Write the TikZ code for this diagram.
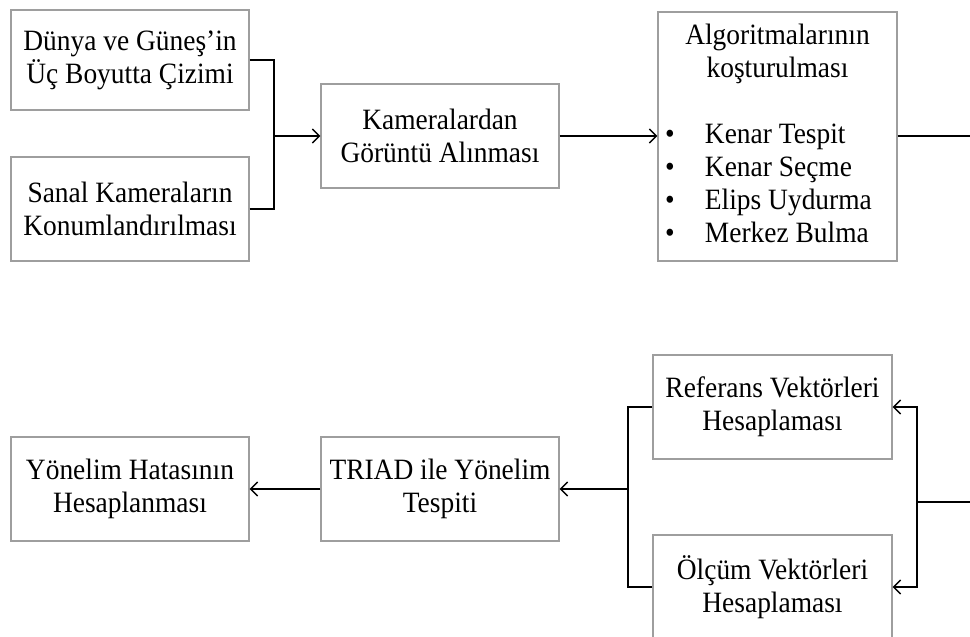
\documentclass[tikz,border=0pt]{standalone}
\usepackage{fontspec}
\setmainfont[FakeStretch=0.93]{Liberation Serif}
\usetikzlibrary{arrows.meta, positioning}

\begin{document}
\begin{tikzpicture}
		[x=1pt, y=-1pt,
	elem/.style={draw=black!38,line width=1.1pt,rectangle,inner sep=0pt,align=center,font=\fontsize{29.5}{33}\selectfont,minimum width=238pt,minimum height=104pt},
	link/.style={line width=1.5pt},
	arr/.style={link,-{Straight Barb[length=7pt,width=14pt]}}
	]
		\useasboundingbox (0,0) rectangle (970,637);
		% upper row
		\node (dun) [elem,minimum height=100pt] at (130,60) {Dünya ve Güneş’in\\Üç Boyutta Çizimi};
		\node (san) [elem] at (130,209) {Sanal Kameraların\\Konumlandırılması};
		\node (kam) [elem] at (440,136) {Kameralardan\\Görüntü Alınması};
		\node (alg) [elem,minimum width=239pt,minimum height=249pt] at (777.5,136.5) {%
			\begin{tabular}{@{}p{40pt}@{}p{185pt}@{}}
			\multicolumn{2}{@{}c@{}}{Algoritmalarının}\\
			\multicolumn{2}{@{}c@{}}{koşturulması}\\
			\\
			\textbullet & Kenar Tespit\\
			\textbullet & Kenar Seçme\\
			\textbullet & Elips Uydurma\\
			\textbullet & Merkez Bulma
			\end{tabular}};
		% lower row
		\node (ref) [elem,minimum width=239pt] at (772.5,407) {Referans Vektörleri\\Hesaplaması};
		\node (olc) [elem,minimum width=239pt] at (772.5,587) {Ölçüm Vektörleri\\Hesaplaması};
		\node (tri) [elem] at (440,489) {TRIAD ile Yönelim\\Tespiti};
		\node (yon) [elem] at (130,489) {Yönelim Hatasının\\Hesaplanması};

		\coordinate (j1) at (274,136);
		\coordinate (j2) at (917,502);
		\coordinate (j3) at (628,489);
		\coordinate (e1) at (970,136);
		\coordinate (e2) at (970,502);

		\draw [link] (dun.east) -| (j1);
		\draw [link] (san.east) -| (j1);
		\draw [arr] (j1) -- (kam.west);
		\draw [arr] (kam.east) -- (kam.east -| alg.west);
		\draw [link] (alg.east |- e1) -- (e1);
		\draw [link] (e2) -- (j2);
		\draw [arr] (j2) |- (ref.east);
		\draw [arr] (j2) |- (olc.east);
		\draw [link] (ref.west) -| (j3);
		\draw [link] (olc.west) -| (j3);
		\draw [arr] (j3) -- (tri.east);
		\draw [arr] (tri.west) -- (yon.east);
	\end{tikzpicture}
\end{document}
